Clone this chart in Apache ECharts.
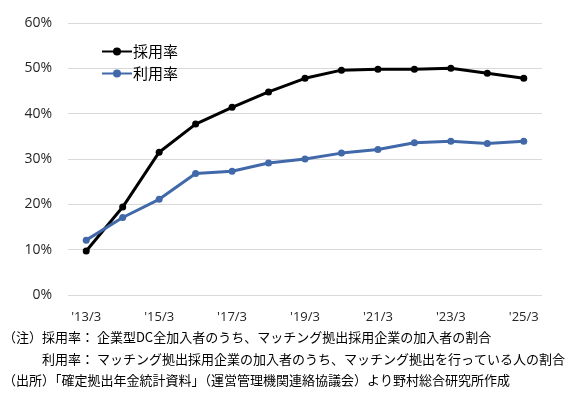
<!DOCTYPE html>
<html>
<head>
<meta charset="utf-8">
<script src="https://cdn.jsdelivr.net/npm/echarts@6/dist/echarts.min.js"></script>
<style>
  html, body { margin: 0; padding: 0; background: #fff; }
  #main { width: 582px; height: 399px; }
</style>
</head>
<body>
<div id="main"></div>
<script>
// 年度（各年3月末）
var categories = ["'13/3", "'14/3", "'15/3", "'16/3", "'17/3", "'18/3", "'19/3",
                  "'20/3", "'21/3", "'22/3", "'23/3", "'24/3", "'25/3"];
// 採用率 (%)
var adoptRate = [9.7, 19.4, 31.5, 37.7, 41.4, 44.8, 47.8, 49.6, 49.8, 49.8, 50.0, 48.9, 47.8];
// 利用率 (%)
var useRate = [12.1, 17.1, 21.1, 26.8, 27.3, 29.1, 30.0, 31.3, 32.1, 33.6, 33.9, 33.4, 33.9];

var notes = [
    '（注）採用率： 企業型DC全加入者のうち、マッチング拠出採用企業の加入者の割合',
    '利用率： マッチング拠出採用企業の加入者のうち、マッチング拠出を行っている人の割合',
    '（出所）「確定拠出年金統計資料」（運営管理機関連絡協議会）より野村総合研究所作成'
];

var font = '"Noto Sans CJK JP", "Noto Sans", sans-serif';
var latin = '"Open Sans", "Noto Sans", sans-serif';
var chart = echarts.init(document.getElementById('main'));

var option = {
    backgroundColor: '#fff',
    animation: false,
    textStyle: { fontFamily: font },
    legend: {
        orient: 'vertical',
        left: 96,
        top: 39,
        itemGap: 7,
        itemWidth: 30,
        itemHeight: 10,
        textStyle: { fontSize: 15, color: '#000', padding: [0, 0, 0, -4] },
        data: ['採用率', '利用率']
    },
    grid: {
        left: 68,
        right: 40,
        top: 23,
        bottom: 104
    },
    xAxis: {
        type: 'category',
        data: categories,
        boundaryGap: true,
        axisLine: { show: false },
        axisTick: { show: false },
        axisLabel: {
            interval: 1,
            color: '#262626',
            fontFamily: latin,
            fontSize: 13,
            margin: 16
        }
    },
    yAxis: {
        type: 'value',
        min: 0,
        max: 60,
        interval: 10,
        axisLine: { show: false },
        axisTick: { show: false },
        axisLabel: {
            formatter: '{value}%',
            color: '#262626',
            fontFamily: latin,
            fontSize: 14,
            margin: 16
        },
        splitLine: { lineStyle: { color: '#d9d9d9', width: 1 } }
    },
    series: [
        {
            name: '採用率',
            type: 'line',
            data: adoptRate,
            symbol: 'circle',
            symbolSize: 7,
            itemStyle: { color: '#000' },
            lineStyle: { color: '#000', width: 3 }
        },
        {
            name: '利用率',
            type: 'line',
            data: useRate,
            symbol: 'circle',
            symbolSize: 7,
            itemStyle: { color: '#4169AA' },
            lineStyle: { color: '#4169AA', width: 3 }
        }
    ],
    graphic: [
        { type: 'text', left: 3, top: 331, style: { text: notes[0], fontSize: 13, fill: '#000', fontFamily: font } },
        { type: 'text', left: 42, top: 353, style: { text: notes[1], fontSize: 13, fill: '#000', fontFamily: font } },
        { type: 'text', left: 3, top: 374, style: { text: notes[2], fontSize: 13, fill: '#000', fontFamily: font } }
    ]
};
chart.setOption(option);
</script>
</body>
</html>
